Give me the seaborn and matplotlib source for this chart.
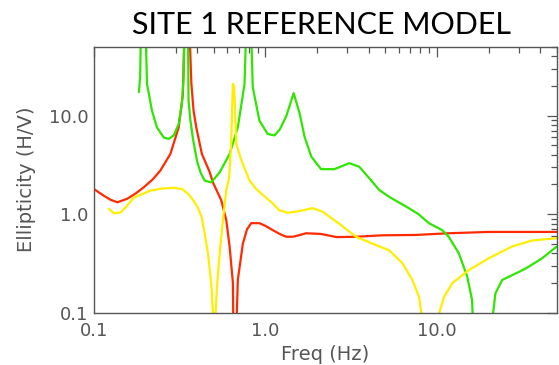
import numpy as np
import pandas as pd
import matplotlib
matplotlib.use("Agg")
import matplotlib.pyplot as plt
import seaborn as sns
from matplotlib.ticker import LogLocator, NullFormatter

# ---- data ----
red_x = [0.1, 0.114, 0.125, 0.137, 0.156, 0.175, 0.195, 0.22, 0.244, 0.279, 0.312, 0.330,
         0.343, 0.353, 0.370, 0.381, 0.395, 0.426, 0.472, 0.494, 0.552, 0.591, 0.618, 0.646,
         0.653, 0.667, 0.69, 0.738, 0.78, 0.826, 0.922, 1.0, 1.1, 1.21, 1.32, 1.45, 1.73,
         2.1, 2.6, 3.4, 4.8, 7.5, 11.7, 20.0, 50.0]
red_y = [1.8, 1.54, 1.40, 1.32, 1.43, 1.62, 1.87, 2.25, 2.77, 4.08, 7.6, 16.5,
         200, 200, 21, 11.2, 7.6, 4.08, 2.7, 2.1, 1.39, 0.87, 0.47, 0.2,
         0.03, 0.03, 0.215, 0.5, 0.7, 0.81, 0.81, 0.76, 0.69, 0.63, 0.59, 0.59, 0.64,
         0.63, 0.585, 0.59, 0.61, 0.615, 0.64, 0.66, 0.66]

green_x = [0.183, 0.186, 0.190, 0.197, 0.204, 0.218, 0.233, 0.255, 0.273, 0.292, 0.312,
           0.326, 0.333, 0.340, 0.352, 0.356, 0.365, 0.378, 0.40, 0.42, 0.442, 0.483, 0.541,
           0.618, 0.69, 0.755, 0.785, 0.812, 0.843, 0.922, 1.03, 1.13, 1.21, 1.32, 1.46,
           1.58, 1.69, 1.85, 2.11, 2.52, 3.08, 3.52, 4.03, 4.6, 5.26, 5.88, 6.58, 7.8,
           8.97, 10.7, 11.7, 13.4, 15.0, 16.0, 16.6, 19.6, 21.9, 24.0, 27.4, 32.8, 40.9, 50.0]
green_y = [17.3, 25, 200, 200, 21, 11.2, 7.6, 6.0, 5.8, 6.3, 8.2,
           13.2, 24.5, 200, 200, 14.2, 9.0, 5.8, 3.4, 2.6, 2.19, 2.1, 2.66,
           4.08, 7.6, 21, 200, 200, 19.4, 8.9, 6.5, 6.3, 7.2, 9.8, 16.9,
           10.6, 6.1, 3.84, 2.86, 2.86, 3.29, 3.03, 2.31, 1.76, 1.5, 1.34, 1.2, 1.0,
           0.81, 0.69, 0.59, 0.4, 0.232, 0.135, 0.03, 0.03, 0.157, 0.215, 0.24, 0.28, 0.356, 0.47]

yellow_x = [0.122, 0.131, 0.143, 0.155, 0.171, 0.213, 0.25, 0.292, 0.326, 0.355, 0.381,
            0.405, 0.425, 0.442, 0.462, 0.483, 0.494, 0.500, 0.508, 0.512, 0.521, 0.541,
            0.565, 0.591, 0.613, 0.631, 0.646, 0.655, 0.662, 0.676, 0.72, 0.807, 0.883,
            0.965, 1.1, 1.2, 1.35, 1.6, 1.88, 2.15, 2.69, 3.37, 4.4, 5.26, 6.28, 7.18,
            7.85, 8.1, 8.3, 10.1, 10.3, 11.0, 12.3, 15.3, 20.0, 27.4, 35.8, 50.0]
yellow_y = [1.13, 1.02, 1.04, 1.2, 1.47, 1.73, 1.82, 1.85, 1.8, 1.6, 1.37,
            1.15, 0.93, 0.64, 0.4, 0.2, 0.1, 0.03, 0.03, 0.1, 0.18, 0.4,
            0.87, 1.76, 2.3, 5.2, 21, 20, 14, 5.2, 3.6, 2.2, 1.8,
            1.57, 1.29, 1.1, 1.03, 1.08, 1.15, 1.06, 0.8, 0.59, 0.486, 0.43, 0.318, 0.215,
            0.145, 0.1, 0.03, 0.03, 0.1, 0.145, 0.2, 0.27, 0.356, 0.47, 0.54, 0.57]

tick_vals = [0.1, 1.0, 10.0]
tick_labels = ["0.1", "1.0", "10.0"]

title = "SITE 1 REFERENCE MODEL"
xlabel = "Freq (Hz)"
ylabel = "Ellipticity (H/V)"

series_names = ["red", "green", "yellow"]
series_colors = {"red": "#ff2a00", "green": "#2ee600", "yellow": "#ffee00"}

df = pd.concat([
    pd.DataFrame({"freq": red_x, "ell": red_y, "mode": "red"}),
    pd.DataFrame({"freq": green_x, "ell": green_y, "mode": "green"}),
    pd.DataFrame({"freq": yellow_x, "ell": yellow_y, "mode": "yellow"}),
], ignore_index=True)

sns.set_style("white")
plt.rcParams["font.family"] = ["DejaVu Sans"]

fig = plt.figure(figsize=(5.59, 3.65), dpi=100)
ax = fig.add_axes([0.168, 0.1433, 0.8283, 0.7287])

for name in series_names:
    sub = df[df["mode"] == name]
    sns.lineplot(data=sub, x="freq", y="ell", ax=ax, color=series_colors[name],
                 estimator=None, sort=False, linewidth=1.6, legend=False)

ax.set_xscale("log")
ax.set_yscale("log")
ax.set_xlim(0.1, 50)
ax.set_ylim(0.1, 50)

gray = "#555555"
ax.set_xticks(tick_vals, tick_labels)
ax.set_yticks(tick_vals, tick_labels)
ax.xaxis.set_minor_locator(LogLocator(base=10, subs=np.arange(2, 10)))
ax.yaxis.set_minor_locator(LogLocator(base=10, subs=np.arange(2, 10)))
ax.xaxis.set_minor_formatter(NullFormatter())
ax.yaxis.set_minor_formatter(NullFormatter())
ax.tick_params(which="both", direction="in", top=True, right=True, color=gray,
               labelcolor=gray, width=0.9, labelsize=13)
ax.tick_params(which="major", length=7)
ax.tick_params(which="minor", length=4.5)
ax.tick_params(axis="x", which="major", pad=7)
ax.tick_params(axis="y", which="major", pad=4)

for sp in ax.spines.values():
    sp.set_color(gray)
    sp.set_linewidth(1.0)

ax.set_xlabel(xlabel, fontsize=14, color=gray, labelpad=3)
ax.set_ylabel(ylabel, fontsize=14, color=gray, labelpad=9)

fig.text(322 / 559, 1 - 33.7 / 365, title, ha="center", va="baseline",
         fontsize=22, family=["Lato", "DejaVu Sans"], color="black")

fig.savefig("out.png", dpi=100, facecolor="white")
